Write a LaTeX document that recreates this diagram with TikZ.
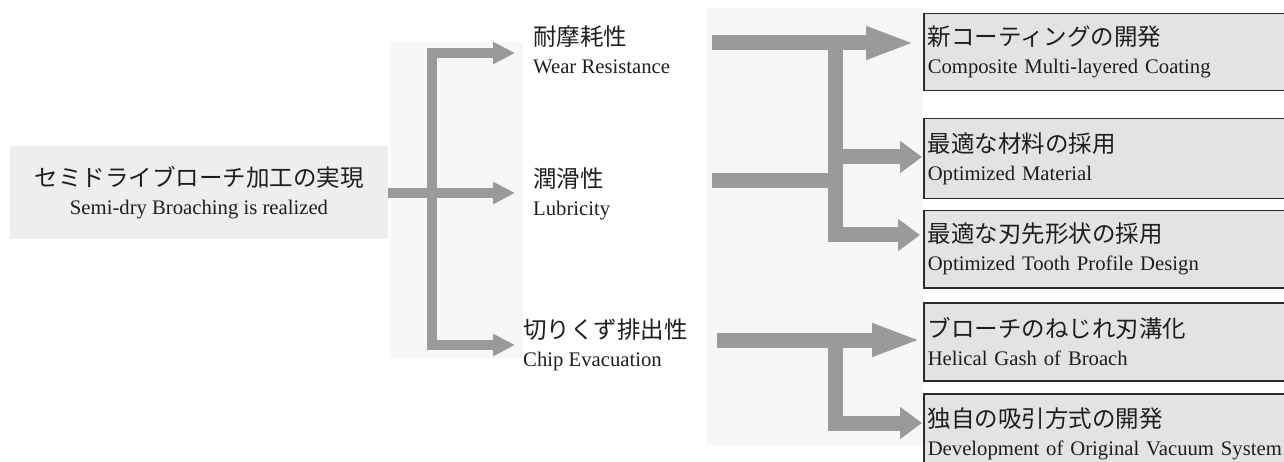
\documentclass[tikz,border=0pt]{standalone}
\usepackage{fontspec}
\setmainfont{Liberation Serif}
\newfontfamily\jp{Noto Sans CJK JP}
\usetikzlibrary{arrows.meta}
\definecolor{arrowgray}{HTML}{9A9A9A}
\definecolor{boxfill}{HTML}{E3E3E3}
\definecolor{boxline}{HTML}{2A2A2A}
\definecolor{nodebg}{HTML}{EEEEEE}
\definecolor{bracketbg}{HTML}{F7F7F7}
\definecolor{ink}{HTML}{1E1E1E}
\newcommand{\jpline}[1]{{\jp\fontsize{23.5}{28}\selectfont #1}}
\tikzset{
  txt/.style={inner sep=0pt, text=ink, font=\fontsize{20.7}{28}\selectfont},
  label/.style={txt, align=left, anchor=west},
  srcnode/.style={txt, align=center, fill=nodebg, minimum width=378pt, minimum height=93pt},
  boxnode/.style={txt, align=left, anchor=north west, draw=boxline, line width=1.5pt,
    fill=boxfill, minimum width=420pt, text width=412pt, inner xsep=4pt},
  thinbar/.style={draw=arrowgray, line width=10.5pt, line join=miter},
  widebar/.style={draw=arrowgray, line width=15pt, line join=miter},
  tipsmall/.tip={Triangle[length=22pt, width=21pt]},
  tipshort/.tip={Triangle[length=22pt, width=31pt]},
  tiplong/.tip={Triangle[length=49pt, width=30pt]},
}
\begin{document}
\begin{tikzpicture}[x=1pt, y=-1pt]
\useasboundingbox (0,0) rectangle (1284,462);
\clip (0,0) rectangle (1284,462);
% faint backgrounds
\fill[bracketbg] (390,42) rectangle (523,358);
\fill[bracketbg] (707,8) rectangle (923,445);

% source node
\node[srcnode] (src) at (199,193) {\jpline{セミドライブローチ加工の実現}\\Semi-dry Broaching is realized};

% middle labels
\node[label] (wear) at (533,50) {\jpline{耐摩耗性}\\Wear Resistance};
\node[label] (lub) at (533,194) {\jpline{潤滑性}\\Lubricity};
\node[label] (chip) at (523,345) {\jpline{切りくず排出性}\\Chip Evacuation};

% boxes
\node[boxnode, minimum height=77pt] (b1) at (923,13) {\jpline{新コーティングの開発}\\Composite Multi-layered Coating};
\node[boxnode, minimum height=80pt] (b2) at (923,118) {\jpline{最適な材料の採用}\\Optimized Material};
\node[boxnode, minimum height=77pt] (b3) at (923,210) {\jpline{最適な刃先形状の採用}\\Optimized Tooth Profile Design};
\node[boxnode, minimum height=78pt] (b4) at (923,302) {\jpline{ブローチのねじれ刃溝化}\\Helical Gash of Broach};
\node[boxnode, minimum height=80pt] (b5) at (923,393) {\jpline{独自の吸引方式の開発}\\Development of Original Vacuum System};

% left bracket
\coordinate (lt) at (515,53);
\coordinate (lvt) at (432,53);
\coordinate (lvb) at (432,345);
\coordinate (lb) at (515,345);
\coordinate (lm) at (515,193);
\draw[thinbar, {tipsmall}-{tipsmall}] (lt) -- (lvt) -- (lvb) -- (lb);
\draw[thinbar, -{tipsmall}] (src.east) -- (lm);

% right bracket (wear + lubricity)
\coordinate (ws) at (712,43);
\coordinate (w1) at (915,43);
\coordinate (rj1) at (835,43);
\coordinate (rj2) at (835,157);
\coordinate (w2) at (922,157);
\coordinate (rj3) at (835,235);
\coordinate (w3) at (920,235);
\coordinate (ls) at (712,181);
\coordinate (rm) at (835,181);
\draw[widebar, -{tiplong}] (ws) -- (w1);
\draw[widebar, -{tipshort}] (rj1) -- (rj3) -- (w3);
\draw[widebar, -{tipshort}] (rj2) -- (w2);
\draw[widebar] (ls) -- (rm);

% right bracket (chip evacuation)
\coordinate (cs) at (717,340);
\coordinate (c1) at (921,340);
\coordinate (cj1) at (835,340);
\coordinate (cj2) at (835,423);
\coordinate (c2) at (922,423);
\draw[widebar, -{tiplong}] (cs) -- (c1);
\draw[widebar, -{tipshort}] (cj1) -- (cj2) -- (c2);
\end{tikzpicture}
\end{document}
